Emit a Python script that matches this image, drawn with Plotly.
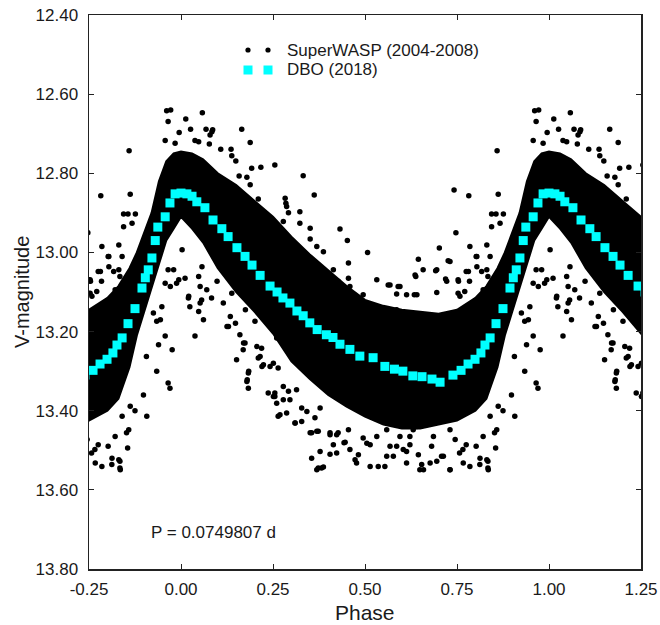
import numpy as np
import plotly.graph_objects as go

# ---------------- DBO (2018) light curve: phase in [0,1), V magnitude ----------------
dbo_phase = [0.000, 0.016, 0.030, 0.043, 0.065, 0.087, 0.111, 0.128, 0.152, 0.174,
             0.193, 0.215, 0.242, 0.261, 0.277, 0.296, 0.315, 0.332, 0.350, 0.370,
             0.395, 0.413, 0.432, 0.459, 0.486, 0.522, 0.554, 0.580, 0.603, 0.630,
             0.655, 0.682, 0.704, 0.739, 0.761, 0.780, 0.799, 0.815, 0.826, 0.840,
             0.856, 0.875, 0.894, 0.903, 0.911, 0.921, 0.930, 0.937, 0.957, 0.970,
             0.984]
dbo_mag = [12.850, 12.852, 12.858, 12.872, 12.887, 12.918, 12.940, 12.960, 12.988, 13.010,
           13.032, 13.058, 13.085, 13.100, 13.115, 13.128, 13.148, 13.160, 13.178, 13.195,
           13.208, 13.215, 13.232, 13.245, 13.262, 13.266, 13.288, 13.295, 13.300, 13.312,
           13.314, 13.320, 13.328, 13.310, 13.298, 13.282, 13.270, 13.254, 13.234, 13.216,
           13.180, 13.142, 13.090, 13.064, 13.044, 13.014, 12.970, 12.936, 12.910, 12.875,
           12.852]

# ---------------- SuperWASP (2004-2008): dense core envelope ----------------
env_phase = [0.00, 0.03, 0.06, 0.10, 0.15, 0.20, 0.25, 0.30, 0.35, 0.40, 0.45, 0.50,
             0.55, 0.60, 0.65, 0.70, 0.75, 0.80, 0.83, 0.86, 0.88, 0.90, 0.92, 0.94,
             0.96, 0.98, 1.00]
env_bright = [12.745, 12.750, 12.765, 12.800, 12.830, 12.870, 12.910, 12.960, 13.005,
              13.045, 13.085, 13.120, 13.135, 13.145, 13.150, 13.155, 13.145, 13.115,
              13.085, 13.040, 13.000, 12.950, 12.900, 12.820, 12.770, 12.750, 12.745]
env_faint = [12.910, 12.940, 12.975, 13.040, 13.100, 13.150, 13.205, 13.275, 13.320,
             13.360, 13.390, 13.415, 13.435, 13.445, 13.445, 13.435, 13.425, 13.400,
             13.370, 13.290, 13.210, 13.150, 13.090, 13.030, 12.970, 12.940, 12.910]

# ---------------- SuperWASP individual scattered points (phase, mag) ----------------
sw_phase = [
    0.961, 0.972, 0.965, 0.013, 0.058, 0.026, 0.995, 0.957, 0.984, 0.038, 0.068, 0.086,
    0.079, 0.165, 0.188, 0.108, 0.136, 0.138, 0.149, 0.217, 0.192, 0.158, 0.179, 0.188,
    0.210, 0.283, 0.287, 0.077, 0.255, 0.228, 0.251, 0.859, 0.084, 0.048,
    0.844, 0.856, 0.876, 0.817, 0.862, 0.867, 0.844, 0.831, 0.804, 0.821, 0.785, 0.782,
    0.802, 0.775, 0.753, 0.784, 0.834, 0.753, 0.771, 0.780, 0.807,
    0.003, 0.980, 0.994, 0.971, 0.021, 0.048, 0.052, 0.048, 0.098, 0.134, 0.148, 0.175,
    0.057, 0.102, 0.988, 0.070, 0.083, 0.115, 0.138, 0.151, 0.024, 0.925, 0.934, 0.957,
    0.976, 0.934, 0.965, 0.970, 0.898, 0.875, 0.907, 0.852, 0.855, 0.834, 0.834, 0.812,
    0.785, 0.766, 0.775, 0.802, 0.757, 0.038, 0.948, 0.957, 0.965, 0.011, 0.020, 0.052,
    0.056, 0.061, 0.129, 0.160, 0.174, 0.169, 0.151, 0.183, 0.179, 0.183, 0.210, 0.219,
    0.242, 0.237, 0.251, 0.201, 0.110, 0.944, 0.939, 0.906, 0.170, 0.220, 0.184, 0.180,
    0.125,
    0.332, 0.362, 0.292, 0.323, 0.278, 0.323, 0.351, 0.432, 0.452, 0.507, 0.455, 0.645,
    0.638, 0.702, 0.726, 0.742, 0.747, 0.692, 0.719, 0.754, 0.758, 0.568, 0.595, 0.634,
    0.695, 0.586, 0.532, 0.455, 0.414, 0.369, 0.387, 0.351, 0.285,
    0.260, 0.251, 0.264, 0.278, 0.255, 0.292, 0.296, 0.260, 0.314, 0.328, 0.269, 0.310,
    0.342, 0.364, 0.378, 0.355, 0.373, 0.405, 0.423, 0.414, 0.378, 0.355, 0.405, 0.373,
    0.387, 0.446, 0.482, 0.473, 0.514, 0.536, 0.554, 0.559, 0.514, 0.455, 0.495, 0.559,
    0.595, 0.622, 0.613, 0.645, 0.654, 0.659, 0.695, 0.731, 0.713, 0.681, 0.745, 0.631,
    0.586,
    # additional edge speckles
    0.563, 0.590, 0.613, 0.636, 0.641, 0.722, 0.781, 0.804, 0.831, 0.840, 0.731, 0.658,
    0.695, 0.586, 0.459, 0.495, 0.427, 0.396, 0.369, 0.332,
    0.206, 0.215, 0.224, 0.255, 0.278, 0.264, 0.287, 0.310, 0.328, 0.351, 0.369, 0.405,
    0.427, 0.443, 0.369, 0.382, 0.423, 0.459, 0.477, 0.505, 0.532, 0.568, 0.577, 0.604,
    0.613, 0.649, 0.677, 0.708, 0.731, 0.767, 0.8125, 0.831, 0.835, 0.821, 0.858, 0.840,
    0.862, 0.731, 0.686, 0.641, 0.622, 0.753, 0.762,
]
sw_mag = [
    12.642, 12.640, 12.669, 12.663, 12.647, 12.689, 12.697, 12.717, 12.724, 12.717, 12.689, 12.690,
    12.703, 12.689, 12.722, 12.739, 12.739, 12.756, 12.769, 12.785, 12.787, 12.807, 12.810, 12.829,
    12.865, 12.863, 12.884, 12.726, 12.779, 12.926, 12.939, 12.743, 12.695, 12.720,
    12.903, 12.903, 12.903, 13.048, 12.853, 12.926, 12.935, 12.981, 13.036, 13.094, 12.985, 12.857,
    13.010, 13.048, 13.069, 13.073, 13.061, 13.103, 13.099, 13.145, 13.120,
    12.993, 13.044, 13.069, 13.086, 13.111, 13.061, 13.128, 13.149, 13.073, 13.162, 13.179, 13.145,
    13.036, 13.027, 13.078, 13.094, 13.115, 13.128, 13.103, 13.082, 13.137, 13.153, 13.174, 13.211,
    13.246, 13.300, 13.330, 13.343, 13.360, 13.400, 13.414, 13.456, 13.494, 13.528, 13.545, 13.536,
    13.541, 13.498, 13.486, 13.490, 13.507, 13.211, 13.137, 13.078, 13.044, 13.065, 13.115, 13.086,
    13.120, 13.170, 13.187, 13.208, 13.229, 13.246, 13.271, 13.305, 13.326, 13.343, 13.267, 13.242,
    13.288, 13.355, 13.364, 13.174, 13.002, 13.170, 13.233, 13.263, 13.229, 13.288, 13.300, 13.322,
    13.187,
    12.806, 12.855, 12.900, 12.897, 12.922, 12.926, 12.939, 12.941, 12.970, 13.000, 13.027, 13.017,
    13.061, 12.989, 13.021, 12.842, 12.950, 13.046, 13.067, 13.073, 13.111, 13.082, 13.086, 13.107,
    13.101, 13.105, 13.069, 13.065, 13.044, 12.985, 12.998, 12.966, 12.876,
    13.216, 13.280, 13.292, 13.339, 13.355, 13.351, 13.372, 13.381, 13.347, 13.393, 13.410, 13.431,
    13.402, 13.418, 13.393, 13.456, 13.452, 13.456, 13.461, 13.486, 13.503, 13.520, 13.510, 13.545,
    13.542, 13.480, 13.511, 13.524, 13.541, 13.541, 13.541, 13.515, 13.486, 13.448, 13.469, 13.448,
    13.465, 13.486, 13.503, 13.511, 13.536, 13.549, 13.528, 13.549, 13.515, 13.490, 13.473, 13.448,
    13.490,
    13.082, 13.086, 13.107, 13.057, 13.107, 13.073, 13.048, 13.010, 13.044, 13.010, 13.023, 13.044,
    13.044, 13.145, 13.086, 13.107, 13.073, 13.052, 13.036, 13.014,
    13.238, 13.263, 13.284, 13.364, 13.372, 13.414, 13.406, 13.431, 13.427, 13.456, 13.452, 13.461,
    13.456, 13.481, 13.549, 13.545, 13.507, 13.498, 13.532, 13.482, 13.465, 13.490, 13.515, 13.498,
    13.532, 13.549, 13.532, 13.515, 13.549, 13.532, 13.520, 13.524, 13.549, 13.465, 13.448, 13.414,
    13.389, 13.448, 13.465, 13.440, 13.465, 13.162, 13.204,
]

# ---------------- axes ----------------
x_tickvals = [-0.25, 0.00, 0.25, 0.50, 0.75, 1.00, 1.25]
x_ticktext = ["-0.25", "0.00", "0.25", "0.50", "0.75", "1.00", "1.25"]
y_tickvals = [12.40, 12.60, 12.80, 13.00, 13.20, 13.40, 13.60, 13.80]
y_ticktext = ["12.40", "12.60", "12.80", "13.00", "13.20", "13.40", "13.60", "13.80"]

legend_labels = ["SuperWASP (2004-2008)", "DBO (2018)"]
period_text = "P = 0.0749807 d"

XMIN, XMAX = -0.25, 1.25
SHIFTS = (-1, 0, 1)


def replicate(ph, mg, pad=0.03):
    ph = np.asarray(ph, float)
    mg = np.asarray(mg, float)
    xs, ys = [], []
    for s in SHIFTS:
        p = ph + s
        m = (p >= XMIN - pad) & (p <= XMAX + pad)
        xs.append(p[m])
        ys.append(mg[m])
    return np.concatenate(xs), np.concatenate(ys)


# band polygon spanning several cycles
ep = np.asarray(env_phase, float)
eb = np.asarray(env_bright, float)
ef = np.asarray(env_faint, float)
bx_top = np.concatenate([ep + s for s in SHIFTS])
by_top = np.concatenate([eb for s in SHIFTS])
bx_bot = np.concatenate([ep + s for s in SHIFTS])[::-1]
by_bot = np.concatenate([ef for s in SHIFTS])[::-1]
band_x = np.concatenate([bx_top, bx_bot, bx_top[:1]])
band_y = np.concatenate([by_top, by_bot, by_top[:1]])

swx, swy = replicate(sw_phase, sw_mag)
dbx, dby = replicate(dbo_phase, dbo_mag)

FONT = "Arial, 'Liberation Sans', sans-serif"
TXT = "#1a1a1a"

fig = go.Figure()
fig.add_trace(go.Scatter(x=band_x, y=band_y, mode="lines", fill="toself",
                         fillcolor="black", line=dict(color="black", width=2),
                         hoverinfo="skip", showlegend=False))
fig.add_trace(go.Scatter(x=swx, y=swy, mode="markers",
                         marker=dict(size=5.5, color="black", line=dict(width=0)),
                         name=legend_labels[0], showlegend=False))
fig.add_trace(go.Scatter(x=dbx, y=dby, mode="markers",
                         marker=dict(symbol="square", size=9, color="#00FFFF",
                                     line=dict(width=0)),
                         name=legend_labels[1], showlegend=False))

axis_common = dict(showgrid=False, zeroline=False, showline=True, linecolor="#222222",
                   linewidth=1.5, mirror="ticks", ticks="inside", ticklen=5,
                   tickwidth=1, tickcolor="#222222",
                   tickfont=dict(family=FONT, size=17, color=TXT))

fig.update_xaxes(range=[XMIN, XMAX], tickvals=x_tickvals, ticktext=x_ticktext,
                 ticklabelstandoff=4, **axis_common)
fig.update_yaxes(range=[13.80, 12.40], tickvals=y_tickvals, ticktext=y_ticktext,
                 ticklabelstandoff=6, **axis_common)

# plot-area geometry in pixels (for the hand-drawn legend)
L, R, T, B = 89, 19, 15, 56
W, H = 660, 625
pw, ph_ = W - L - R, H - T - B


def px_to_paper(x, y):
    return (x - L) / pw, 1 - (y - T) / ph_


shapes = []
for mx in (248, 268):
    ax, ay = px_to_paper(mx, 50)
    shapes.append(dict(type="circle", xref="paper", yref="paper", xsizemode="pixel",
                       ysizemode="pixel", xanchor=ax, yanchor=ay, x0=-2.6, x1=2.6,
                       y0=-2.6, y1=2.6, fillcolor="black", line=dict(width=0)))
    ax, ay = px_to_paper(mx, 70)
    shapes.append(dict(type="rect", xref="paper", yref="paper", xsizemode="pixel",
                       ysizemode="pixel", xanchor=ax, yanchor=ay, x0=-4.5, x1=4.5,
                       y0=-4.5, y1=4.5, fillcolor="#00FFFF", line=dict(width=0)))

ann = []
for lbl, yy in zip(legend_labels, (50, 70)):
    ax, ay = px_to_paper(285, yy)
    ann.append(dict(x=ax, y=ay, xref="paper", yref="paper", text=lbl, showarrow=False,
                    xanchor="left", yanchor="middle",
                    font=dict(family=FONT, size=17, color=TXT)))
ax, ay = px_to_paper(149, 532)
ann.append(dict(x=ax, y=ay, xref="paper", yref="paper", text=period_text, showarrow=False,
                xanchor="left", yanchor="middle",
                font=dict(family=FONT, size=17, color=TXT)))
ann.append(dict(x=0.5, y=0, xref="paper", yref="paper", text="Phase", showarrow=False,
                xanchor="center", yanchor="top", yshift=-30,
                font=dict(family=FONT, size=21, color=TXT)))
ann.append(dict(x=0, y=0.5, xref="paper", yref="paper", text="V-magnitude",
                showarrow=False, textangle=-90, xanchor="center", yanchor="middle",
                xshift=-67, font=dict(family=FONT, size=20, color=TXT)))

fig.update_layout(width=W, height=H,
                  margin=dict(l=L, r=R, t=T, b=B, autoexpand=False),
                  paper_bgcolor="white", plot_bgcolor="white",
                  shapes=shapes, annotations=ann, showlegend=False)

fig.write_html("out.html", config={"displayModeBar": False, "staticPlot": True},
               post_script="document.body.style.margin='0';"
                           "document.body.style.padding='0';"
                           "document.body.style.overflow='hidden';")
